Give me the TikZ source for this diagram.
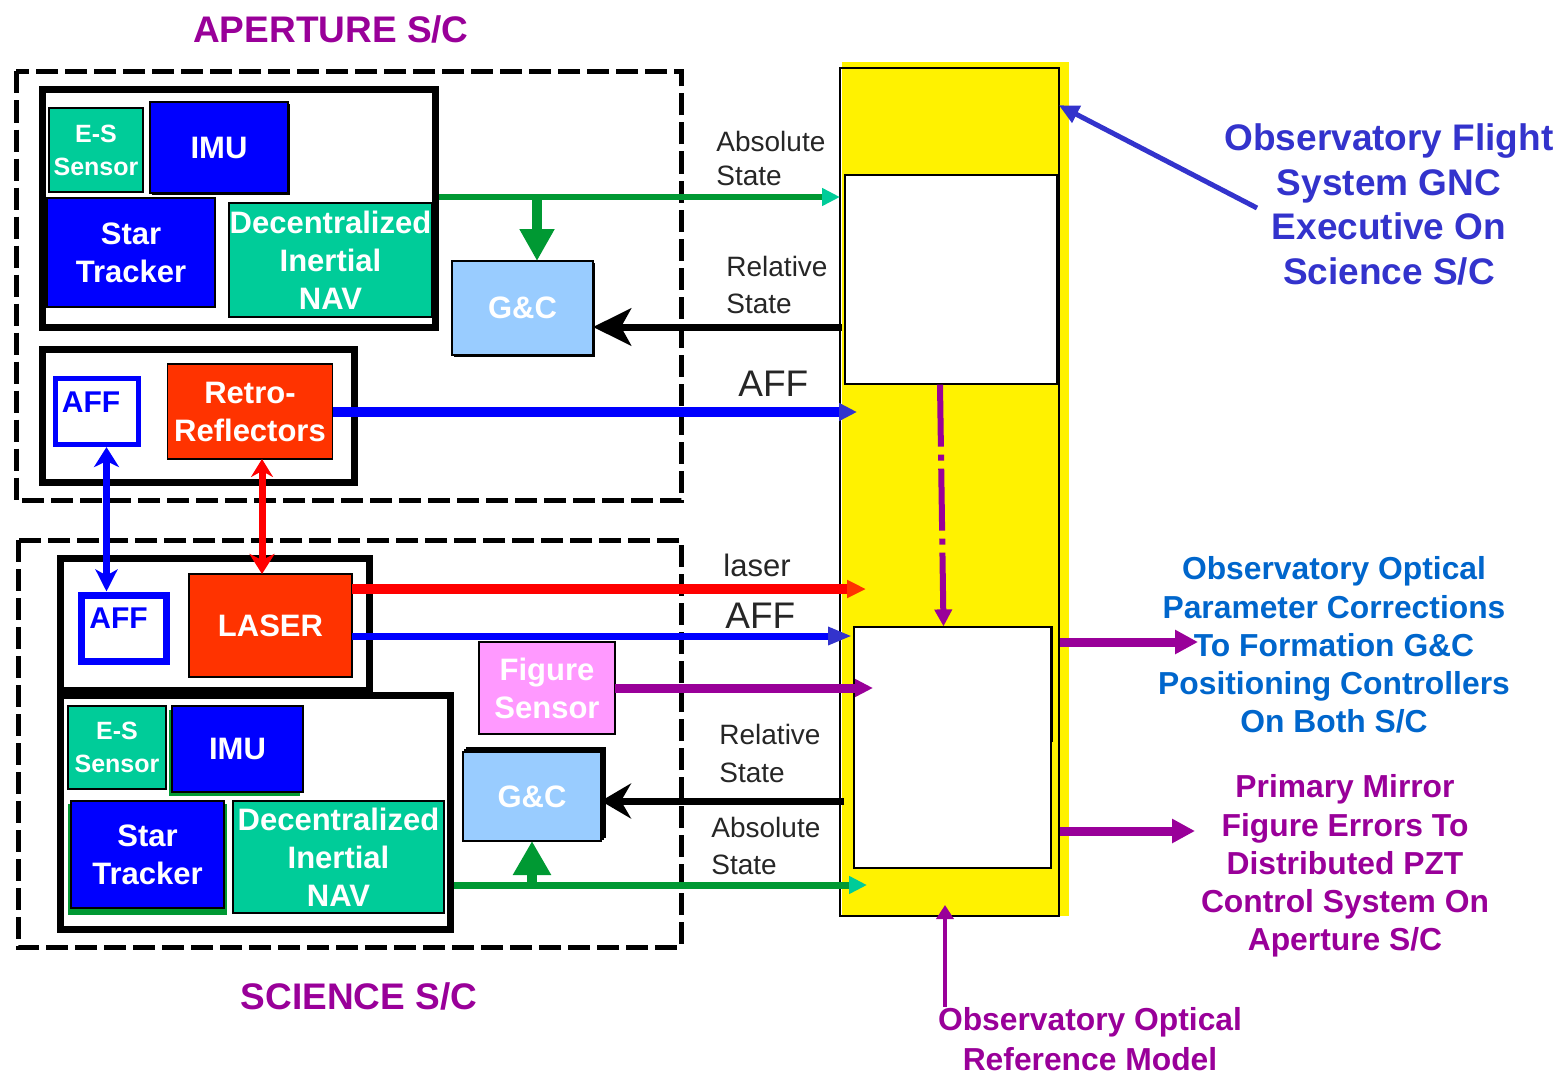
\documentclass[tikz,border=0pt]{standalone}
\usepackage{fontspec}
\setmainfont{Liberation Sans}
\usetikzlibrary{arrows.meta,calc,shadows}

\definecolor{esgreen}{HTML}{00CC99}
\definecolor{linegreen}{HTML}{009933}
\definecolor{imublue}{HTML}{0000FF}
\definecolor{laserred}{HTML}{FF3300}
\definecolor{gcblue}{HTML}{99CCFF}
\definecolor{figpink}{HTML}{FF99FF}
\definecolor{scpurple}{HTML}{990099}
\definecolor{gncblue}{HTML}{3333CC}
\definecolor{optblue}{HTML}{0066CC}

\begin{document}
\begin{tikzpicture}[x=0.5pt, y=-0.5pt,
    unit/.style={draw=black, line width=0.8pt, inner sep=0pt, outer sep=0pt, text=white, align=center, font=\bfseries\fontsize{15.5}{19}\selectfont},
    smallunit/.style={unit, font=\bfseries\fontsize{12.5}{16.5}\selectfont},
    subbox/.style={draw=black, line width=3.5pt, inner sep=0pt},
    scbox/.style={draw=black, line width=2.5pt, dash pattern=on 11pt off 3.5pt},
    affbox/.style={draw=imublue, line width=2.5pt, fill=white, inner sep=0pt},
    afftext/.style={text=imublue, inner sep=0pt, font=\bfseries\fontsize{15}{15}\selectfont},
    sig/.style={anchor=north west, align=left, inner sep=0pt, text=black!85, font=\fontsize{14}{17}\selectfont},
    remark/.style={align=center, inner sep=0pt, font=\bfseries\fontsize{15.9}{19.1}\selectfont},
    title/.style={inner sep=0pt, text=scpurple, font=\bfseries\fontsize{18.5}{22}\selectfont},
]
    \useasboundingbox (0,0) rectangle (1567,1081);

    % Spacecraft outlines
    \draw[scbox] (16,71.5) rectangle (681,500.5);
    \draw[scbox] (18,540) rectangle (681,947);
    \node (aptitle) at (331,29) [title] {APERTURE S/C};
    \node (sctitle) at (359,996) [title] {SCIENCE S/C};

    % Aperture S/C
    \node (navboxA) at (239,208.5) [subbox, minimum width=196.5pt, minimum height=118.5pt] {};
    \node (esA) at (96,150) [smallunit, fill=esgreen, minimum width=47pt, minimum height=42pt] {E-S\\Sensor};
    \node (imuA) at (219,147.5) [unit, fill=imublue, minimum width=69pt, minimum height=45.5pt, drop shadow={shadow xshift=1.2pt, shadow yshift=-1.2pt, fill=black, opacity=1}] {IMU};
    \node (starA) at (131,252.5) [unit, fill=imublue, minimum width=84pt, minimum height=54.5pt] {Star\\Tracker};
    \node (navA) at (330.5,260) [unit, fill=esgreen, minimum width=101.5pt, minimum height=57pt] {Decentralized\\Inertial\\NAV};
    \node (ffboxA) at (198.5,415.5) [subbox, minimum width=156pt, minimum height=66.5pt] {};
    \node (affA) at (97,411.3) [affbox, minimum width=41.5pt, minimum height=33.3pt] {};
    \node (affAtxt) at (91,402) [afftext] {AFF};
    \node (retro) at (250,411.5) [unit, fill=laserred, minimum width=82.5pt, minimum height=47.5pt] {Retro-\\Reflectors};
    \node (gcA) at (522.5,308) [unit, fill=gcblue, minimum width=70.5pt, minimum height=47pt, drop shadow={shadow xshift=1.2pt, shadow yshift=-1.2pt, fill=black, opacity=1}] {G\&C};

    % Science S/C
    \node (laserbox) at (214.75,624) [subbox, minimum width=154.75pt, minimum height=66pt] {};
    \node (affB) at (124,628.25) [affbox, line width=3.5pt, minimum width=42.5pt, minimum height=33.25pt] {};
    \node (affBtxt) at (118.5,618.5) [afftext] {AFF};
    \node (laser) at (270.5,625.5) [unit, fill=laserred, minimum width=81.5pt, minimum height=51.5pt] {LASER};
    \node (navboxB) at (255.25,812) [subbox, minimum width=195.25pt, minimum height=117pt] {};
    \node (esB) at (117,747.5) [smallunit, fill=esgreen, minimum width=49pt, minimum height=41.5pt] {E-S\\Sensor};
    \node (imuB) at (237.5,749) [unit, fill=imublue, minimum width=65.5pt, minimum height=43pt, drop shadow={shadow xshift=-1.5pt, shadow yshift=-2pt, fill=linegreen, opacity=1}] {IMU};
    \node (starB) at (147.5,854.5) [unit, fill=imublue, minimum width=76.5pt, minimum height=53.5pt, drop shadow={shadow xshift=0pt, shadow yshift=-2.5pt, shadow scale=1.04, fill=linegreen, opacity=1}] {Star\\Tracker};
    \node (navB) at (338.5,857) [unit, fill=esgreen, minimum width=105.5pt, minimum height=56pt] {Decentralized\\Inertial\\NAV};
    \node (figure) at (547,688) [unit, fill=figpink, minimum width=68pt, minimum height=46pt] {Figure\\Sensor};
    \node (gcB) at (532,796.5) [unit, fill=gcblue, minimum width=69pt, minimum height=44.5pt, double copy shadow={shadow xshift=1pt, shadow yshift=1pt}] {G\&C};

    % GNC executive on science S/C
    \fill[yellow] (842,62) rectangle (1069,916);
    \node (exec) at (949.5,492) [draw, line width=0.8pt, minimum width=109.5pt, minimum height=424pt] {};
    \node (optA) at (951,279.5) [draw, fill=white, line width=0.6pt, minimum width=106pt, minimum height=104.5pt] {};
    \node (optB) at (952.5,747.5) [draw, fill=white, line width=0.6pt, minimum width=98.5pt, minimum height=120.5pt] {};
    \draw[line width=1.6pt] (optB.north east) -- ++(0,116);

    % Signal labels
    \node (absAlbl) at (716,131) [sig] {Absolute\\State};
    \node (relAlbl) at (726,256) [sig, font=\fontsize{14}{18.5}\selectfont] {Relative\\State};
    \node (affAlbl) at (738,371) [sig, font=\fontsize{18.5}{20}\selectfont] {AFF};
    \node (laserlbl) at (723,554) [sig, font=\fontsize{15.5}{18}\selectfont] {laser};
    \node (affBlbl) at (725,603) [sig, font=\fontsize{18.5}{20}\selectfont] {AFF};
    \node (relBlbl) at (719,724) [sig, font=\fontsize{14}{19}\selectfont] {Relative\\State};
    \node (absBlbl) at (711,817) [sig, font=\fontsize{14}{18.5}\selectfont] {Absolute\\State};

    % Outputs
    \node (gnc) at (1389,204.5) [remark, text=gncblue, font=\bfseries\fontsize{18.5}{22.3}\selectfont] {Observatory Flight\\System GNC\\Executive On\\Science S/C};
    \node (corr) at (1334,645) [remark, text=optblue] {Observatory Optical\\Parameter Corrections\\To Formation G\&C\\Positioning Controllers\\On Both S/C};
    \node (pzt) at (1345,866) [remark, text=scpurple] {Primary Mirror\\Figure Errors To\\Distributed PZT\\Control System On\\Aperture S/C};
    \node (refmodel) at (1090,1039) [remark, text=scpurple, font=\bfseries\fontsize{15.9}{20}\selectfont] {Observatory Optical\\Reference Model};

    % Connector ends
    \coordinate (absA) at (840,197);
    \coordinate (brA) at (537,197);
    \coordinate (relA) at (842,327);
    \coordinate (affAin) at (857,412);
    \coordinate (laserin) at (866,589);
    \coordinate (affBin) at (852,636);
    \coordinate (figin) at (873,688);
    \coordinate (relB) at (844,801);
    \coordinate (absB) at (867,885);
    \coordinate (affx) at (106.5,0);
    \coordinate (retx) at (262,0);
    \coordinate (gnctail) at (1257,208);
    \coordinate (corrout) at (1198,642);
    \coordinate (pztout) at (1195,831);
    \coordinate (refin) at (945,905);

    % Aperture S/C signals
    \draw[linegreen, line width=3pt, -{Triangle[length=9pt,width=8.5pt,color=esgreen]}] (navboxA.east |- absA) -- (absA);
    \draw[linegreen, line width=5pt, -{Triangle[length=16pt,width=16.5pt]}] (brA) -- (brA |- gcA.north);
    \draw[black, line width=3.5pt, -{Stealth[length=19pt,width=18.5pt,inset=5pt]}] (relA) -- (gcA.east |- relA);
    \draw[imublue, line width=5pt, -{Triangle[length=9pt,width=8.5pt,color=gncblue]}] (retro.east |- affAin) -- (affAin);

    % Links between the two S/C
    \draw[imublue, line width=3.5pt, {Stealth[length=10pt,width=12.5pt,inset=3pt]}-{Stealth[length=11pt,width=11pt,inset=3pt]}] (affA.south -| affx) -- (affB.north -| affx);
    \draw[red, line width=3.5pt, {Stealth[length=9pt,width=11pt,inset=3pt]}-{Stealth[length=10pt,width=12.5pt,inset=3pt]}] (retro.south -| retx) -- (laser.north -| retx);

    % Science S/C signals
    \draw[red, line width=5pt, -{Triangle[length=9.5pt,width=8.5pt,color=laserred]}] (laser.east |- laserin) -- (laserin);
    \draw[imublue, line width=3.5pt, -{Triangle[length=12pt,width=8.5pt,color=gncblue]}] (laser.east |- affBin) -- (affBin);
    \draw[scpurple, line width=4.5pt, -{Triangle[length=9pt,width=8.5pt]}] (figure.east |- figin) -- (figin);
    \draw[black, line width=3.5pt, -{Stealth[length=15pt,width=17.5pt,inset=5pt]}] (relB) -- (gcB.east |- relB);
    \draw[linegreen, line width=3.5pt, -{Triangle[length=9pt,width=8.5pt,color=esgreen]}] (navboxB.east |- absB) -- (absB);
    \draw[linegreen, line width=5pt, -{Triangle[length=17pt,width=18pt]}] (gcB.south |- absB) -- (gcB.south);

    % Executive internal and outputs
    \draw[scpurple, line width=3pt, dash pattern=on 31pt off 4pt on 3pt off 4pt, -{Triangle[length=8.5pt,width=8.5pt]}] ($(optA.south)+(-11,0)$) -- ($(optB.north)+(-9,0)$);
    \draw[scpurple, line width=2pt, -{Triangle[length=7pt,width=8.5pt]}] (refin |- refmodel.north) -- (refin);
    \draw[gncblue, line width=2.5pt, -{Triangle[length=10pt,width=9pt]}] (gnctail) -- ($(exec.north east)+(-1,38)$);
    \draw[scpurple, line width=4.5pt, -{Triangle[length=11.5pt,width=11.5pt]}] (exec.east |- corrout) -- (corrout);
    \draw[scpurple, line width=4.5pt, -{Triangle[length=11.5pt,width=11.5pt]}] (exec.east |- pztout) -- (pztout);

\end{tikzpicture}
\end{document}
